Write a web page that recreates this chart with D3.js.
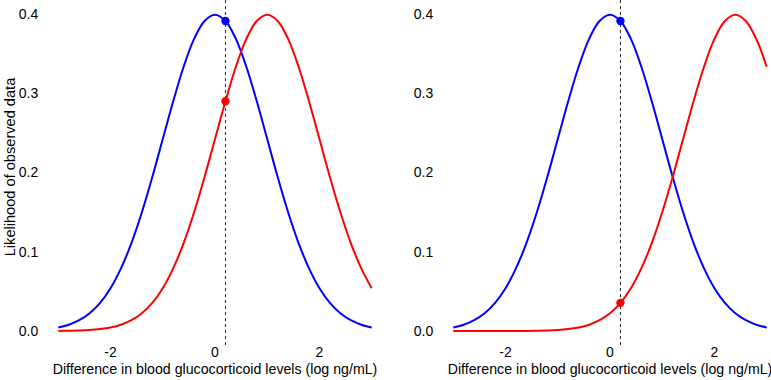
<!DOCTYPE html>
<html>
<head>
<meta charset="utf-8">
<script src="https://cdn.jsdelivr.net/npm/d3@7"></script>
<style>
  body { margin: 0; background: #fff; }
  text { font-family: "Liberation Sans", Arial, sans-serif; fill: #000; }
</style>
</head>
<body>
<div id="chart"></div>
<script>
// x positions where the curves were read (log ng/mL)
const xGrid = [-3.0, -2.8, -2.6, -2.4, -2.2, -2.0, -1.8, -1.6, -1.4, -1.2, -1.0,
               -0.8, -0.6, -0.4, -0.2, 0.0, 0.2, 0.4, 0.6, 0.8, 1.0,
               1.2, 1.4, 1.6, 1.8, 2.0, 2.2, 2.4, 2.6, 2.8, 3.0];

// blue curve, same in both panels
const blueCurve = [0.0044, 0.0079, 0.0136, 0.0224, 0.0355, 0.0540, 0.0790, 0.1109, 0.1497, 0.1942, 0.2420,
                   0.2897, 0.3332, 0.3683, 0.3910, 0.3989, 0.3910, 0.3683, 0.3332, 0.2897, 0.2420,
                   0.1942, 0.1497, 0.1109, 0.0790, 0.0540, 0.0355, 0.0224, 0.0136, 0.0079, 0.0044];

// red curve, left panel
const redLeft = [0.0001, 0.0003, 0.0006, 0.0012, 0.0024, 0.0044, 0.0079, 0.0136, 0.0224, 0.0355, 0.0540,
                 0.0790, 0.1109, 0.1497, 0.1942, 0.2420, 0.2897, 0.3332, 0.3683, 0.3910, 0.3989,
                 0.3910, 0.3683, 0.3332, 0.2897, 0.2420, 0.1942, 0.1497, 0.1109, 0.0790, 0.0540];

// red curve, right panel
const redRight = [0.0000, 0.0000, 0.0000, 0.0000, 0.0000, 0.0000, 0.0001, 0.0001, 0.0003, 0.0006, 0.0012,
                  0.0024, 0.0044, 0.0079, 0.0136, 0.0224, 0.0355, 0.0540, 0.0790, 0.1109, 0.1497,
                  0.1942, 0.2420, 0.2897, 0.3332, 0.3683, 0.3910, 0.3989, 0.3910, 0.3683, 0.3332];

// observed difference (dashed line) and the likelihoods marked on it
const observedX = 0.2;
const leftPoints = [{ v: 0.3910, c: "blue" }, { v: 0.2897, c: "red" }];
const rightPoints = [{ v: 0.3910, c: "blue" }, { v: 0.0355, c: "red" }];

const xTicks = [-2, 0, 2];
const yTicks = [0.0, 0.1, 0.2, 0.3, 0.4];
const xTitle = "Difference in blood glucocorticoid levels (log ng/mL)";
const yTitle = "Likelihood of observed data";

const W = 771, H = 380;
const svg = d3.select("#chart").append("svg")
    .attr("width", W).attr("height", H);

const y = d3.scaleLinear().domain([0, 0.4]).range([331, 13.8]);

const panels = [
    { left: 58.3, right: 371.7, red: redLeft, points: leftPoints, yLabel: true },
    { left: 453.3, right: 766.7, red: redRight, points: rightPoints, yLabel: false }
];

panels.forEach(p => {
    const x = d3.scaleLinear().domain([-3, 3]).range([p.left, p.right]);
    const g = svg.append("g");

    const line = vals => d3.line()
        .x((d, i) => x(xGrid[i]))
        .y(d => y(d))
        .curve(d3.curveCatmullRom.alpha(0.5))(vals);

    // y tick labels, no axis line
    g.selectAll(".ytick").data(yTicks).enter().append("text")
        .attr("x", p.left - 20)
        .attr("y", d => y(d))
        .attr("dy", "0.35em")
        .attr("text-anchor", "end")
        .attr("font-size", 14)
        .text(d => d.toFixed(1));

    // x tick labels
    g.selectAll(".xtick").data(xTicks).enter().append("text")
        .attr("x", d => x(d))
        .attr("y", 357)
        .attr("text-anchor", "middle")
        .attr("font-size", 14)
        .text(d => d);

    g.append("text")
        .attr("x", x(0))
        .attr("y", 374)
        .attr("text-anchor", "middle")
        .attr("font-size", 14.2)
        .text(xTitle);

    if (p.yLabel) {
        g.append("text")
            .attr("transform", `translate(15,167) rotate(-90)`)
            .attr("text-anchor", "middle")
            .attr("font-size", 14.6)
            .text(yTitle);
    }

    // dashed line at the observed value
    g.append("line")
        .attr("x1", x(observedX)).attr("x2", x(observedX))
        .attr("y1", 0).attr("y2", 345)
        .attr("stroke", "#222")
        .attr("stroke-width", 1)
        .attr("stroke-dasharray", "3,3");

    g.append("path")
        .attr("d", line(blueCurve))
        .attr("fill", "none")
        .attr("stroke", "#0000ff")
        .attr("stroke-width", 2);

    g.append("path")
        .attr("d", line(p.red))
        .attr("fill", "none")
        .attr("stroke", "#ff0000")
        .attr("stroke-width", 2);

    g.selectAll(".pt").data(p.points).enter().append("circle")
        .attr("cx", x(observedX))
        .attr("cy", d => y(d.v))
        .attr("r", 4.2)
        .attr("fill", d => d.c === "blue" ? "#0000ff" : "#ff0000");
});
</script>
</body>
</html>
